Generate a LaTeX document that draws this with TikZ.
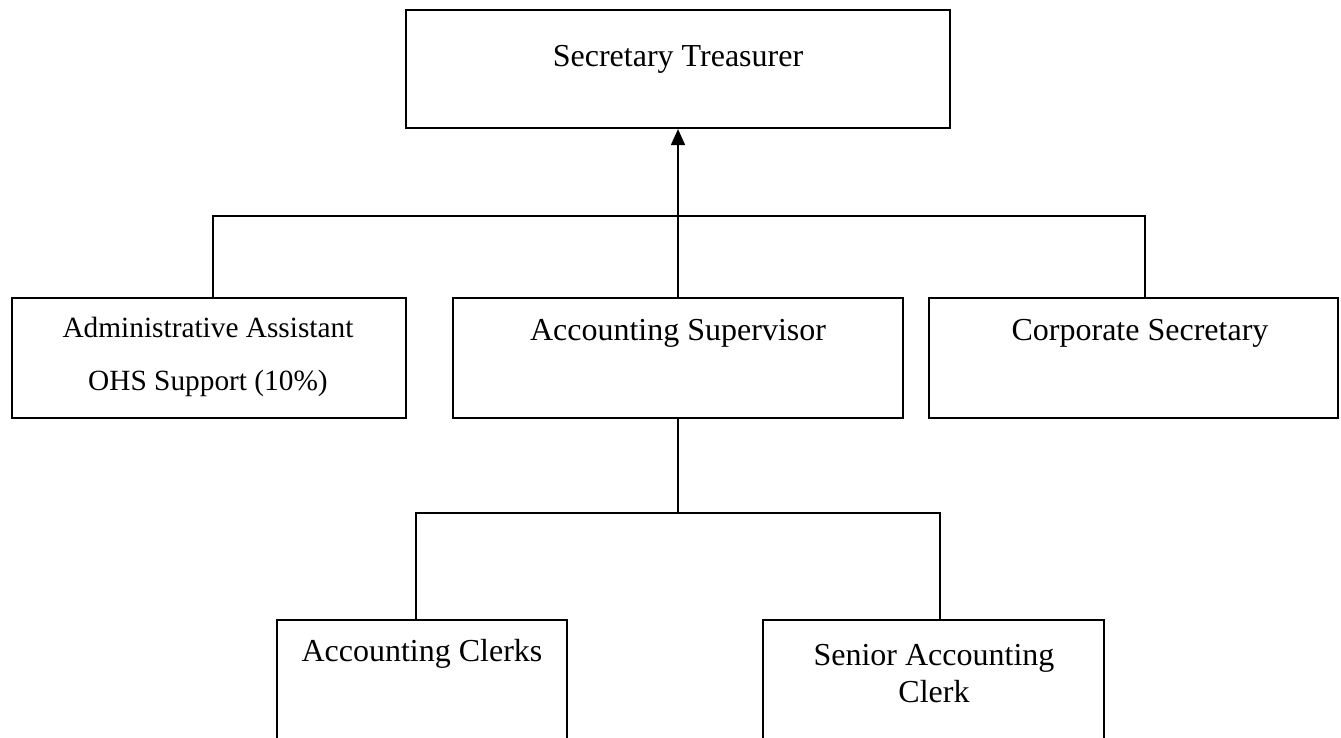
\documentclass[tikz,border=0pt]{standalone}
\usepackage{fontspec}
\setmainfont{Liberation Serif}
\usetikzlibrary{positioning,fit,arrows.meta}
\tikzset{box/.style = {draw,line width=1.6pt,inner sep=0pt}}
\tikzset{title/.style = {anchor=base,inner sep=0pt,font=\fontsize{24}{28}\selectfont}}
\tikzset{small/.style = {title,font=\fontsize{22}{26}\selectfont}}
\tikzset{link/.style = {line width=1.3pt}}
\begin{document}
\begin{tikzpicture}[x=0.75pt,y=-0.75pt]
    \clip (0,0) rectangle (1341,738);
    \useasboundingbox (0,0) rectangle (1341,738);
    % boxes
    \node[box,fit={(406,10) (950,128)}] (st) {};
    \node[box,fit={(12,298) (406,418)}] (aa) {};
    \node[box,fit={(453,298) (903,418)}] (as) {};
    \node[box,fit={(929,298) (1338,418)}] (cs) {};
    \node[box,fit={(277,620) (567,760)}] (ac) {};
    \node[box,fit={(763,620) (1104,760)}] (sac) {};
    % texts
    \node[title] (stt) at (678,67) {Secretary Treasurer};
    \node[small] (aat) at (208,337) {Administrative Assistant};
    \node[small] (aat2) at (208,390) {OHS Support (10\%)};
    \node[title] (ast) at (678,340) {Accounting Supervisor};
    \node[title] (cst) at (1140,340) {Corporate Secretary};
    \node[title] (act) at (422,661) {Accounting Clerks};
    \node[title] (sact) at (934,665) {Senior Accounting};
    \node[title] (sact2) at (934,702) {Clerk};
    % connectors
    \coordinate (j1) at (213,216);
    \coordinate (j3) at (1145,216);
    \coordinate (l1) at (416,513);
    \coordinate (r1) at (940,513);
    \draw[link] (j1 |- aa.north) -- (j1) -- (j3) -- (j3 |- cs.north);
    \draw[link,-{Triangle[length=12pt,width=10.5pt]}] (as.north) -- (st.south);
    \draw[link] (as.south) -- (as.south |- l1);
    \draw[link] (l1 |- ac.north) -- (l1) -- (r1) -- (r1 |- sac.north);
\end{tikzpicture}
\end{document}
